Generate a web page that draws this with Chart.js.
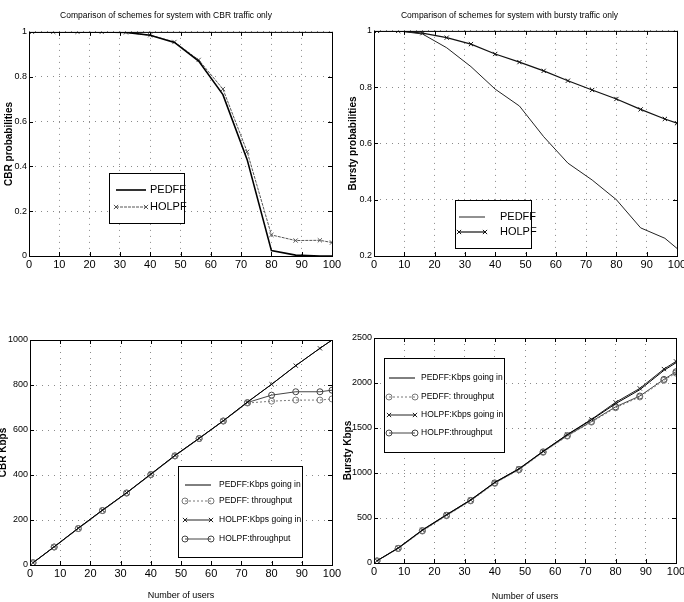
<!DOCTYPE html>
<html>
<head>
<meta charset="utf-8">
<script src="https://cdn.jsdelivr.net/npm/chart.js@4"></script>
<style>
  html, body { margin: 0; padding: 0; background: #fff; }
  #wrap { position: relative; width: 684px; height: 602px; overflow: hidden; }
  canvas { position: absolute; }
</style>
</head>
<body>
<div id="wrap">
  <canvas id="cbrProb" width="342" height="300" style="left:0;top:0"></canvas>
  <canvas id="burstyProb" width="342" height="300" style="left:342px;top:0"></canvas>
  <canvas id="cbrKbps" width="342" height="302" style="left:0;top:300px"></canvas>
  <canvas id="burstyKbps" width="342" height="302" style="left:342px;top:300px"></canvas>
</div>
<script>
// ── datos ──────────────────────────────────────────────────────────────────
const users = [1, 8, 16, 24, 32, 40, 48, 56, 64, 72, 80, 88, 96, 100];

// CBR probabilities
const cbrProbPedff = [1, 1, 1, 1, 0.998, 0.985, 0.953, 0.87, 0.72, 0.43, 0.024, 0.004, 0, 0];
const cbrProbHolpf = [1, 1, 1, 1, 0.998, 0.985, 0.955, 0.875, 0.745, 0.465, 0.094, 0.069, 0.07, 0.06];

// Bursty probabilities
const burstyProbPedff = [1, 1, 0.989, 0.94, 0.873, 0.793, 0.733, 0.624, 0.53, 0.47, 0.40, 0.30, 0.263, 0.227];
const burstyProbHolpf = [1, 1, 0.992, 0.976, 0.953, 0.918, 0.889, 0.858, 0.823, 0.79, 0.758, 0.721, 0.687, 0.672];

// CBR Kbps
const cbrInPedff  = [10, 81, 164, 244, 321, 404, 487, 563, 641, 724, 803, 886, 963, 1000];
const cbrThrPedff = [10, 80, 162, 242, 320, 402, 485, 562, 640, 720, 728, 733, 733, 738];
const cbrInHolpf  = [10, 81, 164, 244, 321, 404, 487, 563, 641, 724, 803, 886, 963, 1000];
const cbrThrHolpf = [10, 80, 162, 242, 320, 402, 485, 562, 640, 722, 755, 770, 770, 777];

// Bursty Kbps
const burstyInPedff  = [25, 165, 365, 535, 700, 895, 1045, 1240, 1425, 1590, 1770, 1925, 2140, 2225];
const burstyThrPedff = [22, 160, 355, 525, 690, 885, 1035, 1230, 1410, 1565, 1725, 1845, 2030, 2110];
const burstyInHolpf  = [25, 168, 368, 537, 702, 897, 1048, 1242, 1428, 1596, 1785, 1940, 2155, 2240];
const burstyThrHolpf = [24, 163, 360, 530, 695, 890, 1040, 1235, 1415, 1572, 1735, 1855, 2040, 2125];

const FUENTE = "'Liberation Sans', Arial, sans-serif";

// ─── marco con ticks hacia dentro ─────────────────────────────────────────
const marco = {
  id: 'marco',
  afterDraw(chart) {
    const { ctx, chartArea: a } = chart;
    const sx = chart.scales.x, sy = chart.scales.y;
    ctx.save();
    ctx.strokeStyle = '#000';
    ctx.lineWidth = 1;
    ctx.strokeRect(a.left + 0.5, a.top + 0.5, a.right - a.left, a.bottom - a.top);
    ctx.beginPath();
    sx.ticks.forEach(t => {
      const px = Math.round(sx.getPixelForValue(t.value)) + 0.5;
      ctx.moveTo(px, a.bottom); ctx.lineTo(px, a.bottom - 4);
      ctx.moveTo(px, a.top); ctx.lineTo(px, a.top + 4);
    });
    sy.ticks.forEach(t => {
      const py = Math.round(sy.getPixelForValue(t.value)) + 0.5;
      ctx.moveTo(a.left, py); ctx.lineTo(a.left + 4, py);
      ctx.moveTo(a.right, py); ctx.lineTo(a.right - 4, py);
    });
    ctx.stroke();
    ctx.restore();
  }
};

// ─── leyenda en caja ──────────────────────────────────────────────────────
const leyendaCaja = {
  id: 'leyendaCaja',
  afterDatasetsDraw(chart, args, opts) {
    if (!opts || !opts.box) return;
    const ctx = chart.ctx;
    const [bx, by, bw, bh] = opts.box;
    ctx.save();
    ctx.fillStyle = '#fff';
    ctx.fillRect(bx, by, bw, bh);
    ctx.strokeStyle = '#000';
    ctx.lineWidth = 1;
    ctx.strokeRect(bx + 0.5, by + 0.5, bw, bh);
    ctx.font = opts.font;
    ctx.textBaseline = 'middle';
    chart.data.datasets.forEach((ds, i) => {
      const y = by + opts.rowY[i];
      const x1 = bx + opts.lineX[0], x2 = bx + opts.lineX[1];
      ctx.strokeStyle = ds.borderColor;
      ctx.lineWidth = ds.borderWidth;
      ctx.setLineDash(ds.borderDash || []);
      ctx.beginPath(); ctx.moveTo(x1, y); ctx.lineTo(x2, y); ctx.stroke();
      ctx.setLineDash([]);
      if (ds.pointRadius > 0 && Chart.helpers && Chart.helpers.drawPoint) {
        ctx.lineWidth = 1;
        ctx.strokeStyle = ds.borderColor;
        ctx.fillStyle = 'rgba(0,0,0,0)';
        const p = { pointStyle: ds.pointStyle, radius: ds.pointRadius, rotation: 0, borderWidth: 1 };
        Chart.helpers.drawPoint(ctx, p, x1, y);
        Chart.helpers.drawPoint(ctx, p, x2, y);
      }
      ctx.fillStyle = '#000';
      ctx.fillText(ds.label, bx + opts.textX, y);
    });
    ctx.restore();
  }
};

Chart.register(marco, leyendaCaja);

function serie(label, valores, estilo) {
  return Object.assign({
    label: label,
    data: users.map((u, i) => ({ x: u, y: valores[i] })),
    borderColor: '#111',
    borderWidth: 1,
    pointRadius: 0,
    pointStyle: 'circle',
    pointBorderWidth: 1,
    pointBackgroundColor: 'rgba(0,0,0,0)',
    tension: 0,
    fill: false
  }, estilo);
}

function crearGrafica(id, cfg) {
  const tieneTitulo = !!cfg.titulo;
  return new Chart(document.getElementById(id), {
    type: 'line',
    data: { datasets: cfg.datasets },
    options: {
      responsive: false,
      animation: false,
      devicePixelRatio: 1,
      layout: { padding: { top: cfg.padTop, right: cfg.padRight, bottom: 0, left: 0 } },
      plugins: {
        legend: { display: false },
        tooltip: { enabled: false },
        title: {
          display: tieneTitulo,
          text: cfg.titulo || '',
          color: '#000',
          font: { family: FUENTE, size: 8.5, weight: 'normal', lineHeight: 1.4 },
          padding: { top: 10, bottom: cfg.tituloAbajo || 10 }
        },
        leyendaCaja: cfg.leyenda
      },
      scales: {
        x: {
          type: 'linear',
          min: 0, max: 100,
          ticks: { stepSize: 10, color: '#000', padding: 2, maxRotation: 0,
                   font: { family: FUENTE, size: 11 } },
          grid: { color: '#8a8a8a', lineWidth: 1, drawTicks: false },
          border: { display: false, dash: [1, 5] },
          title: {
            display: !!cfg.tituloX,
            text: cfg.tituloX || '',
            color: '#000',
            font: { family: FUENTE, size: 9 },
            padding: { top: 0, bottom: cfg.tituloXPad || 0 }
          },
          afterFit: s => { s.height = cfg.altoX; s.paddingLeft = 0; s.paddingRight = 0; }
        },
        y: {
          min: cfg.yMin, max: cfg.yMax,
          ticks: { stepSize: cfg.yPaso, color: '#000', padding: 2,
                   font: { family: FUENTE, size: 9 },
                   callback: v => String(Math.round(v * 100) / 100) },
          grid: { color: '#8a8a8a', lineWidth: 1, drawTicks: false },
          border: { display: false, dash: [1, 5] },
          title: {
            display: true,
            text: cfg.tituloY,
            color: '#000',
            font: { family: FUENTE, size: 10, weight: 'bold', lineHeight: 1 },
            padding: { top: cfg.tituloYPad, bottom: 0 }
          },
          afterFit: s => { s.width = cfg.anchoY; s.paddingTop = 0; s.paddingBottom = 0; }
        }
      }
    }
  });
}

// ─── Gráficas ────────────────────────────────────────────────────────────
crearGrafica('cbrProb', {
  titulo: 'Comparison of schemes for system with CBR traffic only',
  padTop: 0, padRight: 10, altoX: 44, anchoY: 29,
  yMin: 0, yMax: 1, yPaso: 0.2,
  tituloY: 'CBR probabilities', tituloYPad: 4,
  datasets: [
    serie('PEDFF', cbrProbPedff, { borderWidth: 1.6, borderColor: '#000' }),
    serie('HOLPF', cbrProbHolpf, { borderColor: '#555', pointStyle: 'crossRot', pointRadius: 3, borderDash: [3, 1] })
  ],
  leyenda: { box: [109, 173, 75, 50], rowY: [17, 34], lineX: [7, 37], textX: 41, font: '11px ' + FUENTE }
});

crearGrafica('burstyProb', {
  titulo: 'Comparison of schemes for system with bursty traffic only',
  tituloAbajo: 9,
  padTop: 0, padRight: 7, altoX: 44, anchoY: 32,
  yMin: 0.2, yMax: 1, yPaso: 0.2,
  tituloY: 'Bursty probabilities', tituloYPad: 6,
  datasets: [
    serie('PEDFF', burstyProbPedff, { borderColor: '#222' }),
    serie('HOLPF', burstyProbHolpf, { borderColor: '#111', borderWidth: 1.2, pointStyle: 'crossRot', pointRadius: 3 })
  ],
  leyenda: { box: [113, 200, 76, 48], rowY: [17, 32], lineX: [4, 30], textX: 45, font: '11px ' + FUENTE }
});

crearGrafica('cbrKbps', {
  padTop: 40, padRight: 10, altoX: 37, anchoY: 30,
  yMin: 0, yMax: 1000, yPaso: 200,
  tituloX: 'Number of users', tituloXPad: 1,
  tituloY: 'CBR Kbps', tituloYPad: -2,
  datasets: [
    serie('PEDFF:Kbps going in', cbrInPedff, { borderColor: '#000' }),
    serie('PEDFF: throughput', cbrThrPedff, { borderColor: '#777', borderDash: [2, 2], pointRadius: 3 }),
    serie('HOLPF:Kbps going in', cbrInHolpf, { borderColor: '#222', pointStyle: 'crossRot', pointRadius: 3 }),
    serie('HOLPF:throughput', cbrThrHolpf, { borderColor: '#444', pointRadius: 3 })
  ],
  leyenda: { box: [178, 166, 124, 91], rowY: [19, 35, 54, 73], lineX: [7, 33], textX: 41, font: '8.5px ' + FUENTE }
});

crearGrafica('burstyKbps', {
  padTop: 38, padRight: 8, altoX: 39, anchoY: 32,
  yMin: 0, yMax: 2500, yPaso: 500,
  tituloX: 'Number of users', tituloXPad: 0,
  tituloY: 'Bursty Kbps', tituloYPad: 1,
  datasets: [
    serie('PEDFF:Kbps going in', burstyInPedff, { borderColor: '#000' }),
    serie('PEDFF: throughput', burstyThrPedff, { borderColor: '#777', borderDash: [2, 2], pointRadius: 3 }),
    serie('HOLPF:Kbps going in', burstyInHolpf, { borderColor: '#222', pointStyle: 'crossRot', pointRadius: 3 }),
    serie('HOLPF:throughput', burstyThrHolpf, { borderColor: '#444', pointRadius: 3 })
  ],
  leyenda: { box: [42, 58, 120, 94], rowY: [20, 39, 57, 75], lineX: [5, 31], textX: 37, font: '8.5px ' + FUENTE }
});
</script>
</body>
</html>
